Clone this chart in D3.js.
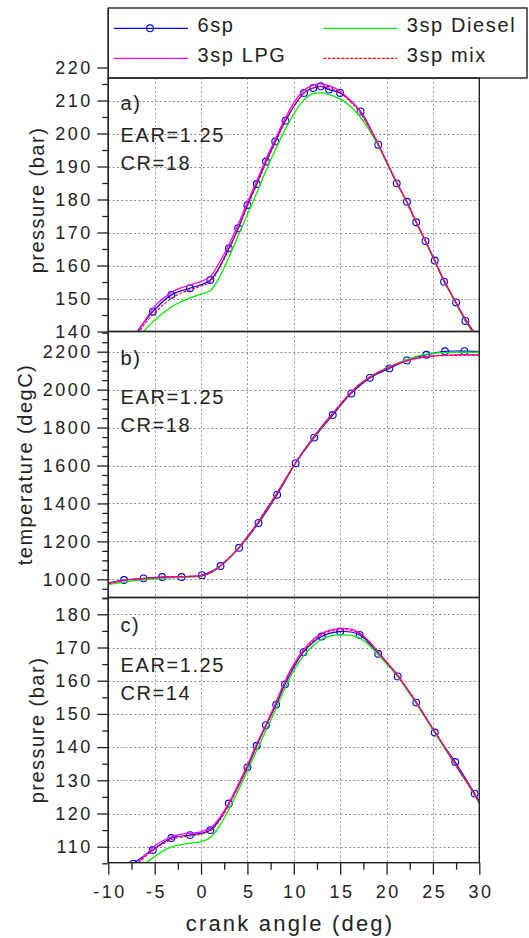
<!DOCTYPE html>
<html>
<head>
<meta charset="utf-8">
<script src="https://cdn.jsdelivr.net/npm/d3@7/dist/d3.min.js"></script>
<style>
  body { margin: 0; background: #fff; }
  svg { display: block; font-family: "Liberation Sans", Arial, sans-serif; }
</style>
</head>
<body>
<div id="chart"></div>
<script>
// crank angle grid of the 3sp runs (deg)
var angle = [-10, -9, -8, -7, -6, -5, -4, -3, -2, -1, 0, 1, 2, 3, 4, 5, 6, 7, 8, 9, 10,
             11, 12, 13, 14, 15, 16, 17, 18, 19, 20, 21, 22, 23, 24, 25, 26, 27, 28, 29, 30];

// a) pressure, CR=18 (bar)
var lpgA    = [126, 130.5, 134.8, 139.0, 143.5, 147.6, 150.2, 152.2, 153.4, 154.3, 155.1, 156.7, 161.0, 166.3, 172.4, 179.2, 185.6, 192.2, 198.3, 204.2, 209.3,
               212.9, 214.6, 215.0, 214.3, 212.8, 210.3, 207.3, 202.7, 197.5, 191.6, 185.8, 180.4, 174.4, 168.6, 162.7, 156.7, 151.3, 146.2, 141.6, 137.6];
var mixA    = [125.5, 130, 134.2, 138.3, 142.6, 145.6, 148.3, 150.4, 151.8, 152.8, 153.8, 155.0, 159.3, 164.8, 171.0, 177.9, 184.4, 191.0, 197.1, 203.1, 208.3,
               212.0, 213.7, 214.3, 213.6, 212.3, 209.9, 206.9, 202.4, 197.3, 191.4, 185.6, 180.3, 174.3, 168.5, 162.6, 156.6, 151.2, 146.0, 141.4, 137.4];
var dieselA = [123, 127.5, 132, 136.5, 140.6, 143.4, 145.8, 147.8, 149.2, 150.4, 151.3, 152.4, 156.5, 162.5, 169.0, 175.5, 182.0, 188.8, 195.0, 200.8, 205.9,
               209.9, 212.0, 212.3, 211.6, 210.5, 208.5, 205.6, 201.6, 196.9, 191.2, 185.5, 180.1, 174.1, 168.3, 162.4, 156.4, 151.0, 145.8, 141.2, 137.2];
var sixspAngleA = [-7.4, -5.2, -3.2, -1.2, 1.0, 3.0, 4.0, 5.0, 6.0, 7.0, 8.0, 9.1, 11.1, 12.1, 12.9, 13.8, 15.0, 17.2, 19.1, 21.1, 22.2, 23.2, 24.2, 25.2, 26.2, 27.5, 28.5, 29.7];
var sixspA      = [138.0, 146.0, 151.1, 153.1, 155.6, 165.2, 171.3, 178.3, 184.7, 191.5, 197.6, 203.9, 212.3, 213.8, 214.3, 213.3, 212.3, 206.7, 196.6, 184.9, 179.3, 173.1, 167.4, 161.5, 155.1, 148.8, 143.2, 138.5];

// b) temperature, CR=18 (degC)
var lpgB    = [978, 988, 997, 1001, 1005, 1008, 1011, 1013, 1014, 1016, 1018, 1035, 1068, 1112, 1162, 1225, 1290, 1365, 1440, 1520, 1600,
               1674, 1742, 1805, 1864, 1922, 1977, 2025, 2060, 2089, 2112, 2133, 2150, 2163, 2172, 2178, 2181, 2183, 2184, 2184, 2184];
var mixB    = [978, 988, 997, 1001, 1005, 1008, 1011, 1013, 1014, 1016, 1018, 1035, 1068, 1112, 1162, 1225, 1290, 1365, 1440, 1520, 1600,
               1672, 1740, 1803, 1862, 1920, 1975, 2023, 2058, 2088, 2111, 2131, 2148, 2161, 2170, 2176, 2179, 2180, 2181, 2181, 2181];
var dieselB = [972, 980, 988, 994, 999, 1003, 1006, 1009, 1011, 1013, 1016, 1033, 1066, 1110, 1162, 1225, 1290, 1365, 1440, 1520, 1600,
               1672, 1740, 1803, 1862, 1920, 1975, 2024, 2060, 2090, 2114, 2136, 2156, 2172, 2184, 2191, 2195, 2196, 2197, 2197, 2197];
var sixspAngleB = [-10, -8.3, -6.2, -4.2, -2.1, 0.1, 2.1, 4.1, 6.2, 8.2, 10.2, 12.2, 14.2, 16.2, 18.2, 20.3, 22.2, 24.3, 26.3, 28.4, 30];
var sixspB      = [981, 996, 1005, 1012, 1012, 1022, 1070, 1166, 1297, 1446, 1612, 1747, 1866, 1980, 2062, 2112, 2154, 2184, 2202, 2203, 2201];

// c) pressure, CR=14 (bar)
var lpgC    = [97.3, 99.8, 102.3, 104.8, 107.5, 110.2, 111.9, 113.2, 113.8, 114.1, 114.5, 115.6, 118.7, 123.2, 128.7, 134.6, 141.0, 146.8, 153.0, 159.6, 165.0,
               169.1, 172.2, 174.2, 175.3, 175.7, 175.6, 174.6, 172.2, 169.0, 165.7, 162.4, 158.5, 154.4, 150.0, 145.6, 141.2, 136.7, 132.3, 128.0, 123.4];
var mixC    = [96.8, 99.5, 102.0, 104.5, 107.0, 109.3, 111.0, 112.3, 112.9, 113.3, 113.8, 114.8, 117.8, 122.5, 128.0, 134.0, 140.4, 146.2, 152.4, 159.0, 164.4,
               168.6, 171.7, 173.8, 174.9, 175.3, 175.2, 174.3, 172.0, 168.8, 165.5, 162.3, 158.4, 154.3, 149.9, 145.5, 141.1, 136.6, 132.2, 128.0, 123.3];
var dieselC = [94, 96.8, 99.5, 102.3, 105.0, 107.0, 108.9, 110.1, 110.7, 111.1, 111.5, 112.8, 116.3, 121.2, 126.8, 132.8, 139.0, 145.0, 151.0, 157.5, 163.0,
               167.3, 170.4, 172.5, 173.5, 173.8, 173.7, 173.0, 171.0, 168.2, 165.1, 162.0, 158.1, 154.0, 149.6, 145.2, 140.8, 136.4, 132.0, 127.8, 123.0];
var sixspAngleC = [-8.5, -7.3, -5.2, -3.2, -1.2, 1.0, 3.0, 5.0, 6.0, 7.0, 8.1, 9.05, 11.05, 13.0, 15.0, 17.1, 19.1, 21.2, 23.2, 25.2, 27.4, 29.5, 30];
var sixspC      = [101.5, 104.9, 109.0, 112.6, 113.5, 115.0, 123.0, 133.9, 140.4, 146.6, 152.8, 158.9, 168.6, 173.3, 174.8, 173.8, 168.1, 161.3, 153.4, 144.4, 135.5, 126.0, 123.6];

// tick labels
var xTicks = [-10, -5, 0, 5, 10, 15, 20, 25, 30];
var yTicksA = [140, 150, 160, 170, 180, 190, 200, 210, 220];
var yTicksB = [1000, 1200, 1400, 1600, 1800, 2000, 2200];
var yTicksC = [110, 120, 130, 140, 150, 160, 170, 180];

var legendNames = ["6sp", "3sp Diesel", "3sp LPG", "3sp mix"];

var W = 529, H = 938;
var xLeft = 108.3, xRight = 479.3;
var ink = "#222";
var gridColor = "#999";

var svg = d3.select("#chart").append("svg")
    .attr("width", W)
    .attr("height", H);

var x = d3.scaleLinear().domain([-10, 30]).range([xLeft, xRight]);

var line = d3.line()
    .x(function (d) { return x(d[0]); })
    .curve(d3.curveCatmullRom);

function drawPanel(p) {
    var y = d3.scaleLinear().domain(p.dom).range(p.rng);
    line.y(function (d) { return y(d[1]); });

    var clipId = "clip" + p.id;
    svg.append("clipPath").attr("id", clipId)
        .append("rect")
        .attr("x", xLeft).attr("y", p.top)
        .attr("width", xRight - xLeft).attr("height", p.bottom - p.top);

    // dotted grid
    var gridG = svg.append("g").attr("class", "grid");
    [-5, 0, 5, 10, 15, 20, 25].forEach(function (d) {
        var gx = Math.round(x(d)) + 0.5;
        gridG.append("line")
            .attr("x1", gx).attr("x2", gx)
            .attr("y1", p.top).attr("y2", p.bottom)
            .attr("stroke", gridColor).attr("stroke-width", 1)
            .attr("stroke-dasharray", "2,2.3");
    });
    p.ticks.forEach(function (d) {
        var gy = Math.round(y(d)) + 0.5;
        if (gy < p.top + 2 || gy > p.bottom - 2) return;
        gridG.append("line")
            .attr("x1", xLeft).attr("x2", xRight)
            .attr("y1", gy).attr("y2", gy)
            .attr("stroke", "#8c8c8c").attr("stroke-width", 1)
            .attr("stroke-dasharray", "2,2.3");
    });

    // series
    var g = svg.append("g").attr("clip-path", "url(#" + clipId + ")").attr("fill", "none");
    var six = d3.zip(p.sixX, p.six);
    g.append("path").datum(six).attr("d", line)
        .attr("stroke", "#0000ff").attr("stroke-width", 1.2);
    g.selectAll("circle").data(six.slice(1, six.length - 1)).enter().append("circle")
        .attr("cx", function (d) { return x(d[0]); })
        .attr("cy", function (d) { return y(d[1]); })
        .attr("r", 3.4)
        .attr("stroke", "#0000ff").attr("stroke-width", 1.1);
    g.append("path").datum(d3.zip(angle, p.diesel)).attr("d", line)
        .attr("stroke", "#00ee00").attr("stroke-width", 1.3);
    g.append("path").datum(d3.zip(angle, p.lpg)).attr("d", line)
        .attr("stroke", "#ff00ff").attr("stroke-width", 1.3);
    g.append("path").datum(d3.zip(angle, p.mix)).attr("d", line)
        .attr("stroke", "#ff0000").attr("stroke-width", 1.1)
        .attr("stroke-dasharray", "3,1.5");

    // frame
    svg.append("rect")
        .attr("x", xLeft).attr("y", p.top)
        .attr("width", xRight - xLeft).attr("height", p.bottom - p.top)
        .attr("fill", "none").attr("stroke", ink).attr("stroke-width", 1.4);

    // left axis, major + minor ticks
    var minor = d3.range(p.dom[0] - p.step, p.ticks[p.ticks.length - 1] + p.step * 1.01, p.step / p.sub)
        .filter(function (d) {
            return p.ticks.indexOf(Math.round(d)) < 0 && y(d) >= p.top - 0.5 && y(d) <= p.bottom + 0.8;
        });
    var axMinor = svg.append("g").attr("transform", "translate(" + xLeft + ",0)")
        .call(d3.axisLeft(y).tickValues(minor).tickSize(6).tickFormat(""));
    var axMajor = svg.append("g").attr("transform", "translate(" + xLeft + ",0)")
        .call(d3.axisLeft(y).tickValues(p.ticks).tickSize(11).tickPadding(4.5)
            .tickFormat(function (d) { return String(d); }));
    [axMinor, axMajor].forEach(function (a) {
        a.select(".domain").remove();
        a.selectAll("line").attr("stroke", ink).attr("stroke-width", 1.3);
        a.selectAll("text").attr("font-size", 18).attr("fill", ink)
            .attr("letter-spacing", "2.5px").attr("font-family", null);
    });

    // axis title
    svg.append("text")
        .attr("transform", "translate(" + p.titleX + "," + p.titleY + ") rotate(-90)")
        .attr("text-anchor", "middle")
        .attr("font-size", 20).attr("letter-spacing", "1.5px").attr("fill", ink)
        .text(p.title);

    // panel notes
    p.notes.forEach(function (d, i) {
        svg.append("text")
            .attr("x", 120.5).attr("y", p.noteY[i])
            .attr("font-size", 20).attr("letter-spacing", "1.6px").attr("fill", ink)
            .text(d);
    });
}

// legend box (its lower edge is the top of panel a)
svg.append("rect")
    .attr("x", xLeft).attr("y", 8).attr("width", 527 - xLeft).attr("height", 78 - 8)
    .attr("fill", "#fff").attr("stroke", ink).attr("stroke-width", 1.4);
// left axis line runs up past panel a top
svg.append("line")
    .attr("x1", xLeft).attr("x2", xLeft).attr("y1", 8).attr("y2", 862.7)
    .attr("stroke", ink).attr("stroke-width", 1.4);

drawPanel({
    id: "a", top: 78, bottom: 331.5, dom: [140, 220], rng: [331.5, 67.5],
    ticks: yTicksA, step: 10, sub: 2,
    lpg: lpgA, mix: mixA, diesel: dieselA, sixX: sixspAngleA, six: sixspA,
    title: "pressure (bar)", titleX: 43.5, titleY: 200,
    notes: ["a)", "EAR=1.25", "CR=18"], noteY: [110, 141.7, 170]
});
drawPanel({
    id: "b", top: 331.5, bottom: 597.5, dom: [1000, 2200], rng: [579.3, 351.7],
    ticks: yTicksB, step: 200, sub: 4,
    lpg: lpgB, mix: mixB, diesel: dieselB, sixX: sixspAngleB, six: sixspB,
    title: "temperature (degC)", titleX: 32, titleY: 464.5,
    notes: ["b)", "EAR=1.25", "CR=18"], noteY: [365, 403.7, 432]
});
drawPanel({
    id: "c", top: 597.5, bottom: 862.7, dom: [110, 180], rng: [846.7, 614.3],
    ticks: yTicksC, step: 10, sub: 2,
    lpg: lpgC, mix: mixC, diesel: dieselC, sixX: sixspAngleC, six: sixspC,
    title: "pressure (bar)", titleX: 43.5, titleY: 730,
    notes: ["c)", "EAR=1.25", "CR=14"], noteY: [632, 672, 700.3]
});

// bottom axis
var xMinor = d3.range(-7.5, 30, 5);
var axXm = svg.append("g").attr("transform", "translate(0,862.7)")
    .call(d3.axisBottom(x).tickValues(xMinor).tickSize(7).tickFormat(""));
var axX = svg.append("g").attr("transform", "translate(0,862.7)")
    .call(d3.axisBottom(x).tickValues(xTicks).tickSize(12).tickPadding(10.5)
        .tickFormat(function (d) { return String(d); }));
[axXm, axX].forEach(function (a) {
    a.select(".domain").remove();
    a.selectAll("line").attr("stroke", ink).attr("stroke-width", 1.3);
    a.selectAll("text").attr("font-size", 18).attr("fill", ink)
        .attr("letter-spacing", "2.5px").attr("dx", "1.25px").attr("font-family", null);
});

svg.append("text")
    .attr("x", 290).attr("y", 931)
    .attr("text-anchor", "middle")
    .attr("font-size", 22).attr("letter-spacing", "2.2px").attr("fill", ink)
    .text("crank angle (deg)");

// legend entries
var leg = [
    {name: legendNames[0], lx: 114, ly: 28.3, color: "#0000ff", dash: null, mark: true},
    {name: legendNames[1], lx: 323.3, ly: 28.3, color: "#00ee00", dash: null, mark: false},
    {name: legendNames[2], lx: 114, ly: 58.3, color: "#ff00ff", dash: null, mark: false},
    {name: legendNames[3], lx: 323.3, ly: 58.3, color: "#ff0000", dash: "3,1.5", mark: false}
];
var lg = svg.append("g");
leg.forEach(function (d) {
    lg.append("line")
        .attr("x1", d.lx).attr("x2", d.lx + 74)
        .attr("y1", d.ly).attr("y2", d.ly)
        .attr("stroke", d.color).attr("stroke-width", 1.3)
        .attr("stroke-dasharray", d.dash);
    if (d.mark) {
        lg.append("circle")
            .attr("cx", d.lx + 36).attr("cy", d.ly).attr("r", 3.4)
            .attr("fill", "none").attr("stroke", d.color).attr("stroke-width", 1.1);
    }
    lg.append("text")
        .attr("x", d.lx + 83.5).attr("y", d.ly + 3.7)
        .attr("font-size", 20).attr("letter-spacing", "1.6px").attr("fill", ink)
        .text(d.name);
});
</script>
</body>
</html>
